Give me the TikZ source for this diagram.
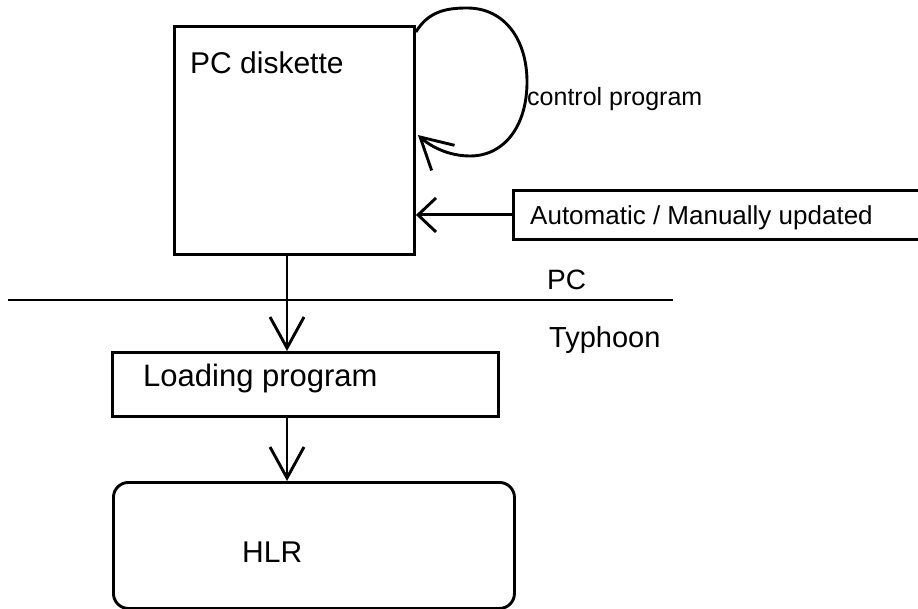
\documentclass[tikz,border=0pt]{standalone}
\usepackage{fontspec}
\setmainfont{Liberation Sans}
\usetikzlibrary{arrows.meta,calc}

\tikzset{
  outline/.style={draw=black, line width=2.9pt},
  boxshape/.style={outline, inner sep=0pt, anchor=north west},
  arr/.style={draw=black, line width=2.9pt,
    -{Straight Barb[length=31pt,width=34pt,line width=2.9pt]}},
  shortarr/.style={draw=black, line width=2.9pt,
    -{Straight Barb[length=18pt,width=34pt,line width=2.9pt]}},
  lbl/.style={inner sep=0pt, anchor=base west},
}

\begin{document}
\begin{tikzpicture}[x=1pt, y=-1pt]
  \useasboundingbox (0,0) rectangle (918,609);

  % boxes
  \node[boxshape, minimum width=240pt, minimum height=228pt] (pc) at (173,25) {};
  \node[boxshape, minimum width=406pt, minimum height=49pt] (auto) at (512,189) {};
  \node[boxshape, minimum width=386pt, minimum height=64pt] (load) at (111,351) {};
  \node[boxshape, rounded corners=15pt, minimum width=401pt, minimum height=126pt] (hlr) at (112,481) {};

  % texts
  \node[lbl, font=\fontsize{30pt}{36pt}\selectfont] (pctxt) at (190,74) {PC diskette};
  \node[lbl, font=\fontsize{25pt}{30pt}\selectfont] (ctrl) at (527,106) {control program};
  \node[lbl, font=\fontsize{26pt}{31pt}\selectfont] (autotxt) at (530,225) {Automatic / Manually updated};
  \node[lbl, font=\fontsize{28pt}{34pt}\selectfont] (pclbl) at (547,290) {PC};
  \node[lbl, font=\fontsize{29pt}{35pt}\selectfont] (typh) at (549,348) {Typhoon};
  \node[lbl, font=\fontsize{31pt}{37pt}\selectfont] (loadtxt) at (143,386) {Loading program};
  \node[lbl, font=\fontsize{30pt}{36pt}\selectfont] (hlrtxt) at (242,562) {HLR};

  % PC / Typhoon divider
  \coordinate (divL) at (8,300);
  \coordinate (divR) at (673,300);
  \draw[outline] (divL) -- (divR);

  % self loop of the control program
  \coordinate (loopS) at ($(pc.north east)+(0,7)$);
  \coordinate (loopE) at ($(pc.north east)+(2,110)$);
  \draw[arr] (loopS) .. controls (428,12) and (445,8) .. (467,8)
                     .. controls (505,8) and (527,40) .. (527,82)
                     .. controls (527,125) and (505,156) .. (470,156)
                     .. controls (448,156) and (430,146) .. (loopE);

  % update feed
  \draw[shortarr] (auto.west) -- (auto.west -| pc.east);

  % downward flow
  \coordinate (col) at (287,0);
  \draw[arr] (pc.south -| col) -- (load.north -| col);
  \draw[arr] (load.south -| col) -- (hlr.north -| col);
\end{tikzpicture}
\end{document}
